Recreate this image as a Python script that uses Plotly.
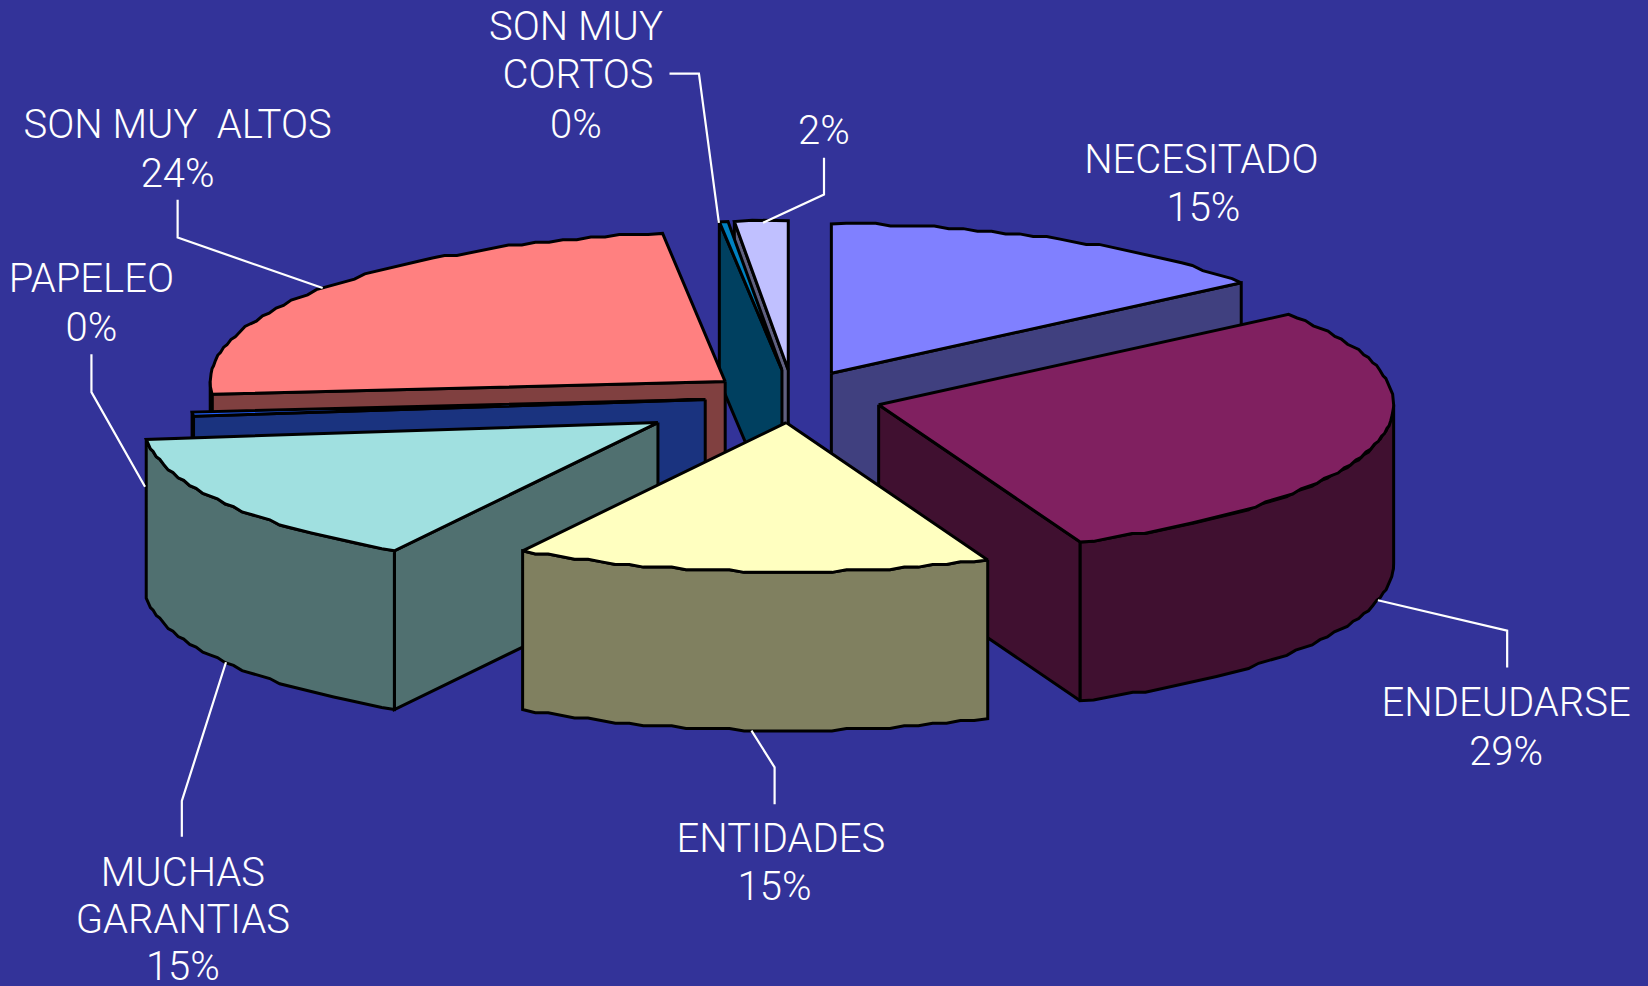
import numpy as np
import plotly.graph_objects as go

# ---- data (percent of the pie, clockwise from 12 o'clock)
categories = ["NECESITADO", "ENDEUDARSE", "ENTIDADES", "MUCHAS GARANTIAS",
              "PAPELEO", "SON MUY ALTOS", "SON MUY CORTOS", ""]
values = [14.65, 28.95, 14.95, 14.65, 0.45, 24.41, 0.27, 1.67]
percent_labels = ["15%", "29%", "15%", "15%", "0%", "24%", "0%", "2%"]

# ---- style
top_colors = ["#8080FF", "#802060", "#FFFFC0", "#A0E0E0", "#2060FF", "#FF8080", "#0080C0", "#C0C0FF"]
side_colors = ["#40407F", "#401030", "#808060", "#507070", "#1A337F", "#804040", "#004060", "#606080"]
BG = "#333399"

# ---- pseudo-3D projection of the pie (axis units = reference image at 1568x938)
RX, RY, DEPTH = 490, 142, 151
CX, CY = 745, 378
explode_dx = [46, 91, 3, -119, -74, -55, -1, 5]
explode_dy = [-23, 7, 24, 24, 2, -15, -26, -26]
paint_order = [7, 6, 0, 5, 4, 1, 3, 2]
SNAP = 2.5  # the reference's outline is slightly stepped, like an enlarged metafile

# ---- leader lines and label texts (layout)
leader_x = [[637, 665, 684], [784, 784, 726], [169, 169, 307], [87, 87, 138],
            [1311, 1434, 1434], [715, 737, 737], [215, 173, 173]]
leader_y = [[70, 70, 212], [150, 185, 212], [190, 226, 274], [337, 373, 463],
            [571, 600, 635], [695, 730, 765], [630, 762, 796]]
text_lines = ["SON MUY", "CORTOS", "0%", "2%", "NECESITADO", "15%", "ENDEUDARSE", "29%",
              "ENTIDADES", "15%", "MUCHAS", "GARANTIAS", "15%", "PAPELEO", "0%",
              "SON MUY  ALTOS", "24%"]
text_x = [548, 550, 548, 784, 1143, 1145, 1433, 1433, 743, 737, 174, 174, 174, 87, 87, 169, 169]
text_y = [29, 74, 122, 127, 155, 201, 672, 718, 801, 847, 833, 878, 923, 268, 315, 122, 168]

fractions = np.array(values) / sum(values) * 360.0
edges = np.concatenate([[0.0], np.cumsum(fractions)])

fig = go.Figure()


def poly(xs, ys, fill):
    fig.add_trace(go.Scatter(
        x=list(xs) + [xs[0]], y=list(ys) + [ys[0]], mode="lines", fill="toself",
        fillcolor=fill, line=dict(color="black", width=3),
        hoverinfo="skip", showlegend=False))


def pt(ax, ay, deg):
    r = np.radians(deg)
    return ax + RX * np.sin(r), ay - RY * np.cos(r)


def arc(ax, ay, lo, hi):
    t = np.linspace(lo, hi, max(2, int((hi - lo) / 1.6) + 1))
    x, y = pt(ax, ay, t)
    y = y.copy()
    y[1:-1] = ay + np.round((y[1:-1] - ay) / SNAP) * SNAP
    return x, y


for i in paint_order:
    a0, a1 = edges[i], edges[i + 1]
    ax, ay = CX + explode_dx[i], CY + explode_dy[i]
    # radial faces, only when they look towards the viewer
    for edge_angle, normal in ((a0, a0 - 90), (a1, a1 + 90)):
        if np.cos(np.radians(normal)) < -1e-6:
            ex, ey = pt(ax, ay, edge_angle)
            poly([ax, ex, ex, ax], [ay, ey, ey + DEPTH, ay + DEPTH], side_colors[i])
    # outer rim: the part on the front half of the ellipse
    lo, hi = max(a0, 90.0), min(a1, 270.0)
    if hi > lo:
        rx_, ry_ = arc(ax, ay, lo, hi)
        poly(list(rx_) + list(rx_[::-1]), list(ry_) + list((ry_ + DEPTH)[::-1]), side_colors[i])
    # top face
    tx, ty = arc(ax, ay, a0, a1)
    poly([ax] + list(tx), [ay] + list(ty), top_colors[i])

for lx, ly in zip(leader_x, leader_y):
    fig.add_trace(go.Scatter(x=lx, y=ly, mode="lines", line=dict(color="white", width=2.2),
                             hoverinfo="skip", showlegend=False))

fig.add_trace(go.Scatter(
    x=text_x, y=text_y, text=text_lines, mode="text", textposition="middle center",
    textfont=dict(family="Roboto", size=40, color="white", weight=300),
    hoverinfo="skip", showlegend=False))

fig.update_layout(
    width=1648, height=986, margin=dict(l=0, r=0, t=0, b=0),
    paper_bgcolor=BG, plot_bgcolor=BG, showlegend=False,
    xaxis=dict(range=[0, 1568], visible=False, fixedrange=True),
    yaxis=dict(range=[938, 0], visible=False, fixedrange=True),
)
fig.write_html(
    "out.html", config={"displayModeBar": False},
    post_script="document.body.style.margin='0';document.body.style.overflow='hidden';"
                "document.body.style.background='" + BG + "';",
)
